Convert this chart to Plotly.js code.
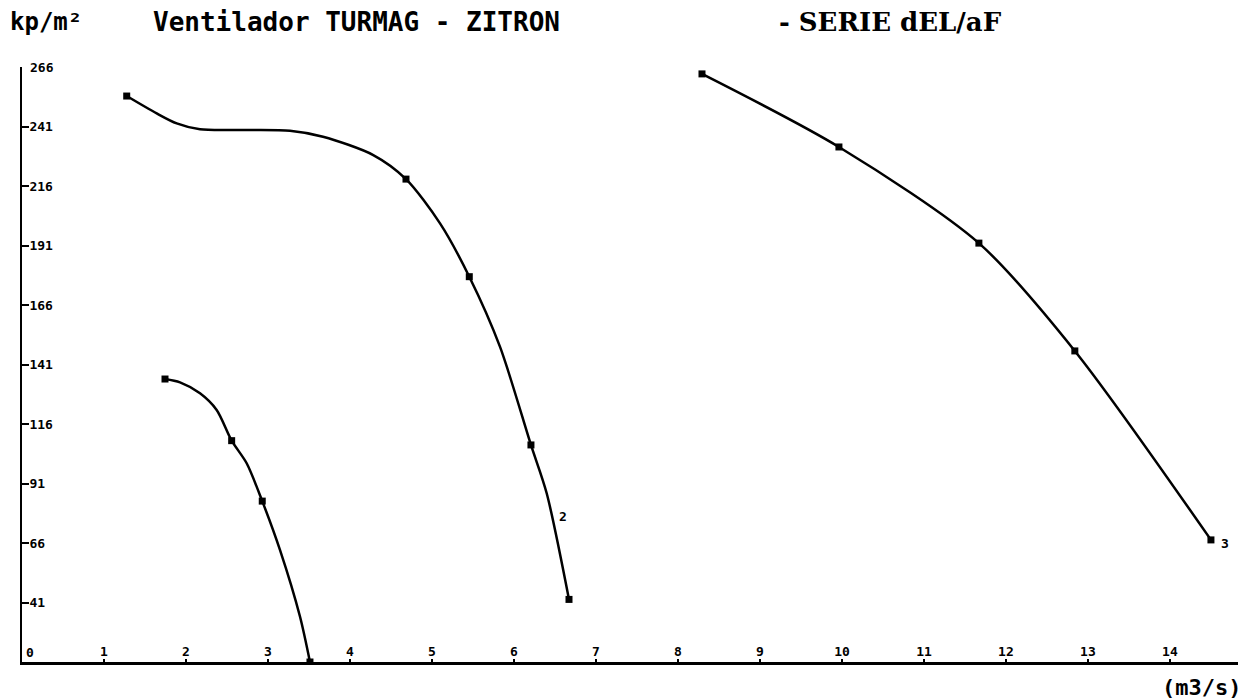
<!DOCTYPE html>
<html>
<head>
<meta charset="utf-8">
<script src="https://cdn.plot.ly/plotly-3.0.1.min.js"></script>
<style>html,body{margin:0;padding:0;background:#fff;}#chart{width:1244px;height:700px;}</style>
</head>
<body>
<div id="chart"></div>
<script>
// Curve paths (caudal m3/s, presión kp/m2)
const curve1X = [1.744, 1.927, 2.171, 2.374, 2.557, 2.740, 2.930, 3.146, 3.390, 3.512];
const curve1Y = [134.9, 133.5, 128.9, 121.9, 109.0, 99.5, 83.6, 63.1, 35.1, 16.0];
const curve1MarkX = [1.744, 2.557, 2.930, 3.512];
const curve1MarkY = [134.9, 109.0, 83.6, 16.0];

const curve2X = [1.277, 1.643, 1.887, 2.171, 2.659, 3.268, 3.671, 4.284, 4.683, 5.098, 5.455, 5.829, 6.207, 6.399, 6.671];
const curve2Y = [253.8, 246.5, 242.3, 239.8, 239.5, 239.2, 236.7, 229.0, 218.9, 200.3, 177.9, 148.5, 107.2, 86.9, 42.3];
const curve2MarkX = [1.277, 4.683, 5.455, 6.207, 6.671];
const curve2MarkY = [253.8, 218.9, 177.9, 107.2, 42.3];

const curve3X = [8.293, 9.963, 11.67, 12.84, 14.50];
const curve3Y = [263.1, 232.4, 192.0, 146.7, 67.3];

const curveLabels = ["2", "3"];
const curveLabelX = [6.60, 14.67];
const curveLabelY = [77.3, 66.0];

const xTickVals = [1,2,3,4,5,6,7,8,9,10,11,12,13,14];
const xTickText = ["1","2","3","4","5","6","7","8","9","10","11","12","13","14"];
const yTickVals = [41, 66, 91, 116, 141, 166, 191, 216, 241, 266];
const yTickText = ["41","66","91","116","141","166","191","216","241","266"];

const titleText = "Ventilador TURMAG - ZITRON";
const subTitleText = "- SERIE dEL/aF";
const yUnitText = "kp/m²";
const xUnitText = "(m3/s)";

const mono = "DejaVu Sans Mono";
const lineStyle = {color: "#000", width: 2.5, shape: "spline", smoothing: 0.8};
const markStyle = {color: "#000", size: 7, symbol: "square"};

const traces = [
  {x: curve1X, y: curve1Y, mode: "lines", line: lineStyle, hoverinfo: "skip"},
  {x: curve1MarkX, y: curve1MarkY, mode: "markers", marker: markStyle},
  {x: curve2X, y: curve2Y, mode: "lines", line: lineStyle, hoverinfo: "skip"},
  {x: curve2MarkX, y: curve2MarkY, mode: "markers", marker: markStyle},
  {x: curve3X, y: curve3Y, mode: "lines+markers", line: lineStyle, marker: markStyle}
];

const tickFont = {family: mono, size: 13, color: "#000"};
const annotations = curveLabels.map((t, i) => ({
  x: curveLabelX[i], y: curveLabelY[i], xref: "x", yref: "y", text: "<b>" + t + "</b>",
  showarrow: false, font: tickFont
}));
annotations.push({x: 0, y: 16, xref: "x", yref: "y", text: "<b>0</b>", showarrow: false,
  xanchor: "left", yanchor: "bottom", xshift: 2, font: tickFont});
// top tick label (Plotly hides inside labels that overflow the plot edge)
const lastIdx = yTickVals.length - 1;
annotations.push({x: 0, y: yTickVals[lastIdx], xref: "x", yref: "y", text: "<b>" + yTickText[lastIdx] + "</b>",
  showarrow: false, xanchor: "left", yanchor: "middle", xshift: 6, font: tickFont});
const yTickTextShown = yTickText.map((t, i) => i === lastIdx ? "" : t);

const L = 22, R = 6, T = 67, B = 38, W = 1244, H = 700;
const pw = W - L - R, ph = H - T - B;
function px2paperX(px) { return (px - L) / pw; }
function py2paperY(py) { return (H - B - py) / ph; }

annotations.push({x: px2paperX(8), y: py2paperY(22), xref: "paper", yref: "paper", text: "<b>" + yUnitText + "</b>",
  showarrow: false, xanchor: "left", yanchor: "middle", font: {family: mono, size: 24, color: "#000"}});
annotations.push({x: px2paperX(777), y: py2paperY(22), xref: "paper", yref: "paper", text: "<b>" + subTitleText + "</b>",
  showarrow: false, xanchor: "left", yanchor: "middle", font: {family: "DejaVu Serif", size: 26, color: "#000"}});
annotations.push({x: px2paperX(1243), y: py2paperY(687), xref: "paper", yref: "paper", text: "<b>" + xUnitText + "</b>",
  showarrow: false, xanchor: "right", yanchor: "middle", font: {family: mono, size: 22, color: "#000"}});

const layout = {
  width: W, height: H,
  margin: {l: L, r: R, t: T, b: B, pad: 0},
  paper_bgcolor: "#fff", plot_bgcolor: "#fff",
  showlegend: false,
  title: {text: "<b>" + titleText + "</b>", x: 153/1244, xanchor: "left", xref: "container",
          y: 1 - 22/700, yanchor: "middle", yref: "container",
          font: {family: mono, size: 26, color: "#000"}},
  xaxis: {range: [0, 14.83], showgrid: false, zeroline: false, showline: true, linecolor: "#000", linewidth: 2.5,
          tickvals: xTickVals, ticktext: xTickText, ticks: "inside", ticklen: 3, tickwidth: 2, tickcolor: "#000",
          ticklabelposition: "inside", tickfont: {family: mono, size: 13, color: "#000", weight: "bold"}},
  yaxis: {range: [16, 266], showgrid: false, zeroline: false, showline: true, linecolor: "#000", linewidth: 2.5,
          tickvals: yTickVals, ticktext: yTickTextShown, ticks: "inside", ticklen: 7, tickwidth: 2, tickcolor: "#000",
          ticklabelposition: "inside", tickfont: {family: mono, size: 13, color: "#000", weight: "bold"}},
  annotations: annotations
};

Plotly.newPlot("chart", traces, layout, {displayModeBar: false, staticPlot: true});
</script>
</body>
</html>
